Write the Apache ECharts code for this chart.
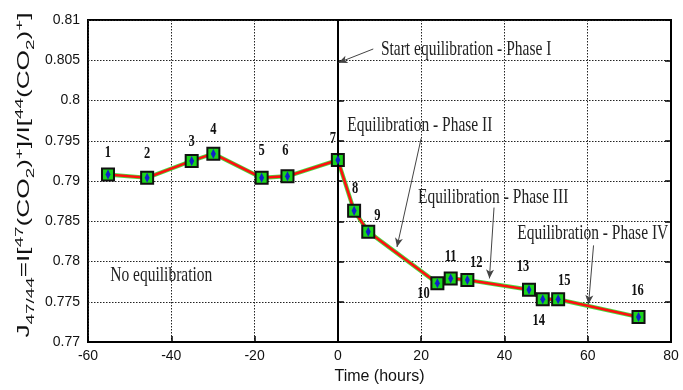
<!DOCTYPE html>
<html>
<head>
<meta charset="utf-8">
<script src="https://cdn.jsdelivr.net/npm/echarts@6/dist/echarts.min.js"></script>
<style>
  html, body { margin: 0; padding: 0; background: #fff; }
  #chart { width: 683px; height: 390px; }
</style>
</head>
<body>
<div id="chart"></div>
<script>
// Measurement times (hours, relative to start of equilibration)
const times = [-55.2, -45.8, -35.1, -29.9, -18.3, -12.1, 0, 3.9, 7.3, 23.9, 27.1, 31.1, 45.9, 49.2, 52.9, 72.2];
// Isotope ratio J47/44 at each measurement
const ratios = [0.7908, 0.7904, 0.7925, 0.7934, 0.7904, 0.7906, 0.7926, 0.7863, 0.7837, 0.7773, 0.7779, 0.7777, 0.7765, 0.7753, 0.7753, 0.7731];
// Sample numbers written beside each point
const pointLabels = ['1','2','3','4','5','6','7','8','9','10','11','12','13','14','15','16'];
// Where each number sits relative to its marker (px)
const labelOffsets = [[0,-22],[0,-24],[0,-19],[0,-24],[0,-27],[-2,-26],[-5,-21],[1,-22],[9,-16],[-14,10],[0,-22],[9,-17],[-6,-23],[-4,21],[6,-19],[-1,-26]];

// Axis ranges and ticks
const xMin = -60, xMax = 80, xStep = 20;
const yMin = 0.77, yMax = 0.81, yStep = 0.005;

// Phase notes: text and anchor in data space
const notes = [
  { text: 'Start equilibration - Phase I', at: [30.8, 0.8063] },
  { text: 'Equilibration - Phase II', at: [19.7, 0.7969] },
  { text: 'Equilibration - Phase III', at: [37.3, 0.7880] },
  { text: 'Equilibration - Phase IV', at: [61.2, 0.7835] },
  { text: 'No equilibration', at: [-42.4, 0.7782] }
];
// Pointer arrows: [from, to] in data space
const arrows = [
  [[8.5, 0.8064], [0.15, 0.8047]],
  [[20.0, 0.7953], [14.2, 0.7818]],
  [[37.5, 0.7867], [36.4, 0.7779]],
  [[61.4, 0.7820], [60.2, 0.7747]]
];

const pts = times.map((t, i) => [t, ratios[i]]);
const serif = '"Liberation Serif", "Times New Roman", serif';
const sans = '"Liberation Sans", Arial, sans-serif';
const tallText = 1.35; // vertical stretch of the serif lettering

const chart = echarts.init(document.getElementById('chart'));
chart.setOption({
  animation: false,
  backgroundColor: '#fff',
  grid: { left: 88, right: 12, top: 20, bottom: 43.5, show: true, borderColor: '#000', borderWidth: 2, backgroundColor: 'transparent' },
  xAxis: {
    type: 'value', min: xMin, max: xMax, interval: xStep,
    name: 'Time (hours)', nameLocation: 'middle', nameGap: 27,
    nameTextStyle: { fontFamily: sans, fontSize: 16, color: '#111' },
    axisLine: { show: true, lineStyle: { color: '#000', width: 2 } },
    axisTick: { show: true, inside: true, length: 6, lineStyle: { color: '#000', width: 1.5 } },
    axisLabel: { fontFamily: sans, fontSize: 14, color: '#111', margin: 7 },
    splitLine: { show: true, lineStyle: { color: '#222', width: 1, type: [1.5, 1.5] } }
  },
  yAxis: [{
    type: 'value', min: yMin, max: yMax, interval: yStep,
    axisLine: { show: true, lineStyle: { color: '#000', width: 2 } },
    axisTick: { show: true, inside: true, length: 6, lineStyle: { color: '#000', width: 1.5 } },
    axisLabel: { fontFamily: sans, fontSize: 14, color: '#111', margin: 8,
      formatter: v => String(parseFloat(v.toFixed(3))) },
    splitLine: { show: true, lineStyle: { color: '#222', width: 1, type: [1.5, 1.5] } }
  }, {
    type: 'value', min: yMin, max: yMax, interval: yStep, position: 'right',
    axisLine: { show: true, lineStyle: { color: '#000', width: 2 } },
    axisTick: { show: true, inside: true, length: 6, lineStyle: { color: '#000', width: 1.5 } },
    axisLabel: { show: false }, splitLine: { show: false }
  }],
  series: [
    {
      // green edge under the trend line
      type: 'line', data: pts, symbol: 'none', z: 2,
      lineStyle: { color: '#44e444', width: 4.2 }
    },
    {
      type: 'line', data: pts, symbol: 'none', z: 3,
      lineStyle: { color: '#ff1010', width: 2.6 },
      markLine: {
        silent: true, symbol: ['none', 'none'],
        label: { show: false },
        data: [
          { xAxis: 0, lineStyle: { color: '#000', width: 2, type: 'solid' } }
        ].concat(arrows.map(a => [
          { coord: a[0], symbol: 'none', lineStyle: { color: '#444', width: 1, type: 'solid' } },
          { coord: a[1], symbol: 'arrow', symbolSize: [6, 9] }
        ]))
      }
    },
    {
      type: 'scatter', data: pts, symbol: 'rect', symbolSize: 12, z: 4,
      itemStyle: { color: '#1bd41b', borderColor: '#111', borderWidth: 2, opacity: 1 }
    },
    {
      type: 'scatter', z: 5, symbol: 'diamond', symbolSize: [5, 10],
      itemStyle: { color: '#1020c8', opacity: 1 },
      data: pts
    }
  ]
});

// Y-axis title with sub/superscripts, drawn as rotated rich text
const yTitle = '{b|J}{s|47/44}{b|=I[}{p|47}{b|(CO}{s|2}{b|)}{p|+}{b|]/I[}{p|44}{b|(CO}{s|2}{b|)}{p|+}{b|]}';
const yRich = {
  b: { fontFamily: sans, fontSize: 16, fill: '#111', lineHeight: 23, verticalAlign: 'middle' },
  s: { fontFamily: sans, fontSize: 11.5, fill: '#111', lineHeight: 11, verticalAlign: 'bottom' },
  p: { fontFamily: sans, fontSize: 11.5, fill: '#111', lineHeight: 11, verticalAlign: 'top' }
};
const gridTop = chart.convertToPixel({ gridIndex: 0 }, [xMin, yMax])[1];
const gridBottom = chart.convertToPixel({ gridIndex: 0 }, [xMin, yMin])[1];

const titleEl = new echarts.graphic.Text({
  style: { text: yTitle, rich: yRich, align: 'center', verticalAlign: 'middle' }
});
const titleLen = titleEl.getBoundingRect().width;

const graphics = [{
  type: 'text', x: 25, y: (gridTop + gridBottom) / 2 - 6, rotation: Math.PI / 2,
  scaleX: 325 / titleLen, z: 10,
  style: { text: yTitle, rich: yRich, align: 'center', verticalAlign: 'middle', textAlign: 'center', textVerticalAlign: 'middle' }
}];

notes.forEach(n => {
  const p = chart.convertToPixel({ gridIndex: 0 }, n.at);
  graphics.push({
    type: 'text', x: p[0], y: p[1], scaleY: tallText, z: 10,
    style: { text: n.text, fontFamily: serif, fontSize: 15.5, fill: '#222',
      align: 'center', verticalAlign: 'middle', textAlign: 'center', textVerticalAlign: 'middle' }
  });
});

pts.forEach((pt, i) => {
  const p = chart.convertToPixel({ gridIndex: 0 }, pt);
  graphics.push({
    type: 'text', x: p[0] + labelOffsets[i][0], y: p[1] + labelOffsets[i][1], scaleY: tallText, z: 10,
    style: { text: pointLabels[i], fontFamily: serif, fontWeight: 'bold', fontSize: 12.5, fill: '#111',
      align: 'center', verticalAlign: 'middle', textAlign: 'center', textVerticalAlign: 'middle' }
  });
});

chart.setOption({ graphic: graphics });
</script>
</body>
</html>
